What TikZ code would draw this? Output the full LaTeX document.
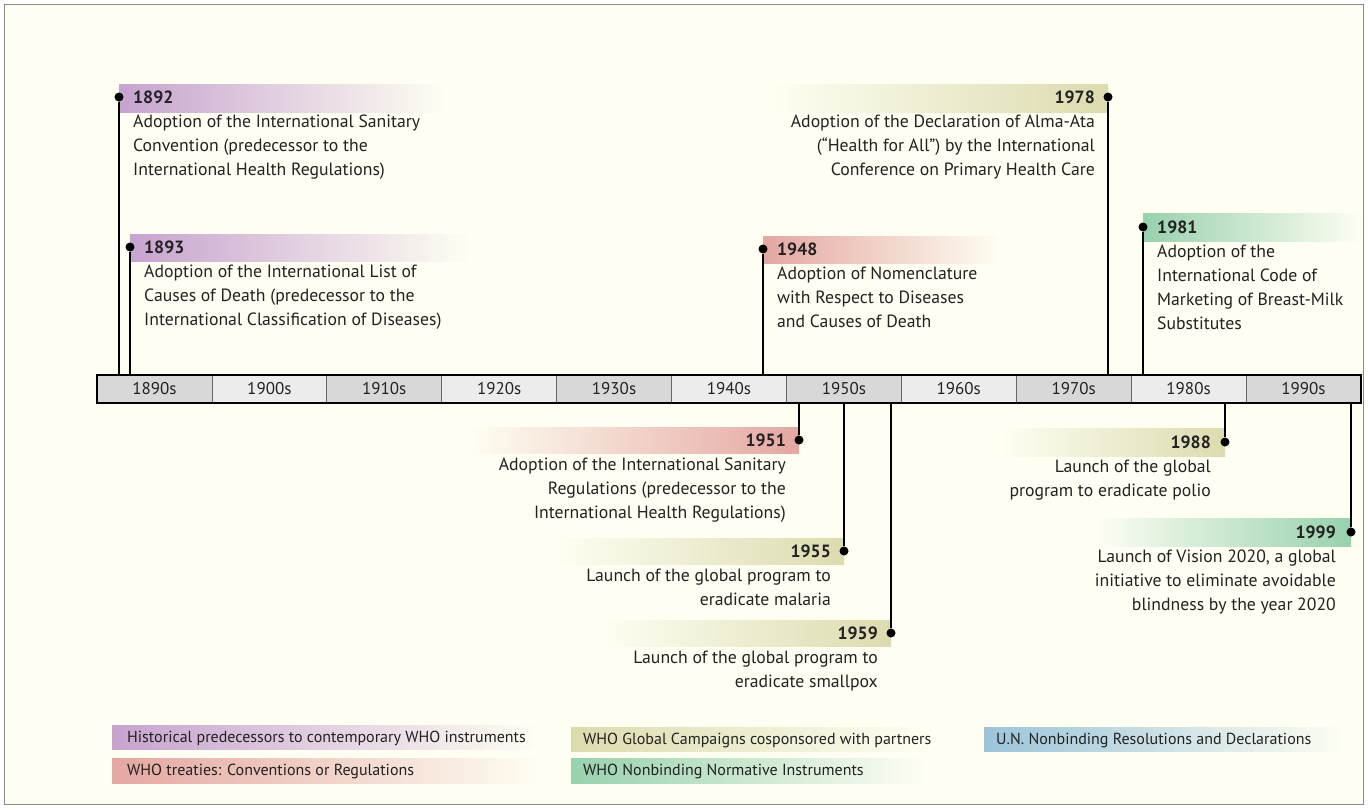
\documentclass[tikz,border=0pt]{standalone}
\usepackage{fontspec}
\setmainfont{PT Sans}
\definecolor{bg}{HTML}{FEFEF2}
\definecolor{framec}{HTML}{8C8C8C}
\definecolor{cpur}{HTML}{C7A3CF}
\definecolor{cred}{HTML}{E4A7A1}
\definecolor{cyel}{HTML}{DCDBAF}
\definecolor{cgrn}{HTML}{98D1AE}
\definecolor{cblu}{HTML}{9CC4D9}
\definecolor{cdark}{HTML}{D8D8D8}
\definecolor{clight}{HTML}{ECECEC}
\definecolor{txt}{HTML}{222222}
\tikzset{
  dotnode/.style={circle,fill=black,inner sep=0pt,minimum size=9pt},
  conn/.style={line width=2pt,black},
  evtext/.style={font=\fontsize{17.7}{24}\selectfont,inner sep=0pt,text=txt},
  evleft/.style={evtext,align=left,anchor=base west},
  evright/.style={evtext,align=right,anchor=base east},
  decade/.style={font=\fontsize{17}{19}\selectfont,inner sep=0pt,text=txt},
  legtext/.style={font=\fontsize{16}{18}\selectfont,inner sep=0pt,text=txt,anchor=base west}
}
\begin{document}
\begin{tikzpicture}[x=1pt,y=-1pt]
\useasboundingbox (0,0) rectangle (1368,809);
\fill[white] (0,0) rectangle (1368,809);
\draw[framec,line width=1.5pt,fill=bg] (4.5,4.5) rectangle (1363.5,804.5);

% gradient bands
\shade[left color=cpur,right color=bg] (119,84) rectangle (445,112);
\shade[left color=cpur,right color=bg] (130,234) rectangle (470,261);
\shade[left color=cred,right color=bg] (763,236) rectangle (1000,263);
\shade[left color=bg,right color=cyel] (770,84) rectangle (1108,112);
\shade[left color=cgrn,right color=bg] (1143,213) rectangle (1362,241);
\shade[left color=bg,right color=cred] (470,427) rectangle (799,453);
\shade[left color=bg,right color=cyel] (555,538) rectangle (844,564);
\shade[left color=bg,right color=cyel] (600,620) rectangle (891,646);
\shade[left color=bg,right color=cyel] (1000,428) rectangle (1225,456);
\shade[left color=bg,right color=cgrn] (1095,518) rectangle (1351,546);

% timeline bar
\foreach \i in {0,...,10} {
  \pgfmathsetmacro\xa{97+\i*114.9}
  \pgfmathsetmacro\xb{97+(\i+1)*114.9}
  \pgfmathtruncatemacro\yr{1890+10*\i}
  \pgfmathtruncatemacro\odd{mod(\i,2)}
  \ifnum\odd=1 \def\cc{clight}\else\def\cc{cdark}\fi
  \draw[fill=\cc,draw=black!60,line width=0.8pt] (\xa,375) rectangle (\xb,403);
  \node[decade] (dec\yr) at ({(\xa+\xb)/2},389) {\yr s};
}
\draw[line width=2.2pt] (97,375) rectangle (1361,403);

% bar attachment points
\coordinate (t1892) at (119,375);
\coordinate (t1893) at (130,375);
\coordinate (t1948) at (763,375);
\coordinate (t1978) at (1108,375);
\coordinate (t1981) at (1143,375);
\coordinate (b1951) at (799,403);
\coordinate (b1955) at (844,403);
\coordinate (b1959) at (891,403);
\coordinate (b1988) at (1225,403);
\coordinate (b1999) at (1351,403);

% dots
\node[dotnode] (d1892) at (119,97) {};
\node[dotnode] (d1893) at (130,247) {};
\node[dotnode] (d1948) at (763,249) {};
\node[dotnode] (d1978) at (1108,97) {};
\node[dotnode] (d1981) at (1143,227) {};
\node[dotnode] (d1951) at (799,440) {};
\node[dotnode] (d1955) at (844,551) {};
\node[dotnode] (d1959) at (891,633) {};
\node[dotnode] (d1988) at (1225,442) {};
\node[dotnode] (d1999) at (1351,532) {};

% connectors
\draw[conn] (d1892) -- (t1892);
\draw[conn] (d1893) -- (t1893);
\draw[conn] (d1948) -- (t1948);
\draw[conn] (d1978) -- (t1978);
\draw[conn] (d1981) -- (t1981);
\draw[conn] (d1951) -- (b1951);
\draw[conn] (d1955) -- (b1955);
\draw[conn] (d1959) -- (b1959);
\draw[conn] (d1988) -- (b1988);
\draw[conn] (d1999) -- (b1999);

% event texts (anchored at the baseline of the last line)
\node[evleft] (e1892) at (133,175) {\textbf{1892}\\Adoption of the International Sanitary\\Convention (predecessor to the\\International Health Regulations)};
\node[evleft] (e1893) at (144,325) {\textbf{1893}\\Adoption of the International List of\\Causes of Death (predecessor to the\\International Classification of Diseases)};
\node[evleft] (e1948) at (777,327) {\textbf{1948}\\Adoption of Nomenclature\\with Respect to Diseases\\and Causes of Death};
\node[evright] (e1978) at (1095,175) {\textbf{1978}\\Adoption of the Declaration of Alma-Ata\\(“Health for All”) by the International\\Conference on Primary Health Care};
\node[evleft] (e1981) at (1157,329) {\textbf{1981}\\Adoption of the\\International Code of\\Marketing of Breast-Milk\\Substitutes};
\node[evright] (e1951) at (786,518) {\textbf{1951}\\Adoption of the International Sanitary\\Regulations (predecessor to the\\International Health Regulations)};
\node[evright] (e1955) at (831,605) {\textbf{1955}\\Launch of the global program to\\eradicate malaria};
\node[evright] (e1959) at (878,687) {\textbf{1959}\\Launch of the global program to\\eradicate smallpox};
\node[evright] (e1988) at (1211,496) {\textbf{1988}\\Launch of the global\\program to eradicate polio};
\node[evright] (e1999) at (1336,610) {\textbf{1999}\\Launch of Vision 2020, a global\\initiative to eliminate avoidable\\blindness by the year 2020};

% legend
\shade[left color=cpur,right color=bg] (112,725) rectangle (540,749);
\shade[left color=cred,right color=bg] (112,758) rectangle (540,783);
\shade[left color=cyel,right color=bg] (571,727) rectangle (925,751);
\shade[left color=cgrn,right color=bg] (571,758) rectangle (925,783);
\shade[left color=cblu,right color=bg] (984,727) rectangle (1345,751);
\node[legtext] (l1) at (127,742) {Historical predecessors to contemporary WHO instruments};
\node[legtext] (l2) at (127,775) {WHO treaties: Conventions or Regulations};
\node[legtext] (l3) at (583,744) {WHO Global Campaigns cosponsored with partners};
\node[legtext] (l4) at (583,775) {WHO Nonbinding Normative Instruments};
\node[legtext] (l5) at (996,744) {U.N. Nonbinding Resolutions and Declarations};
\end{tikzpicture}
\end{document}
